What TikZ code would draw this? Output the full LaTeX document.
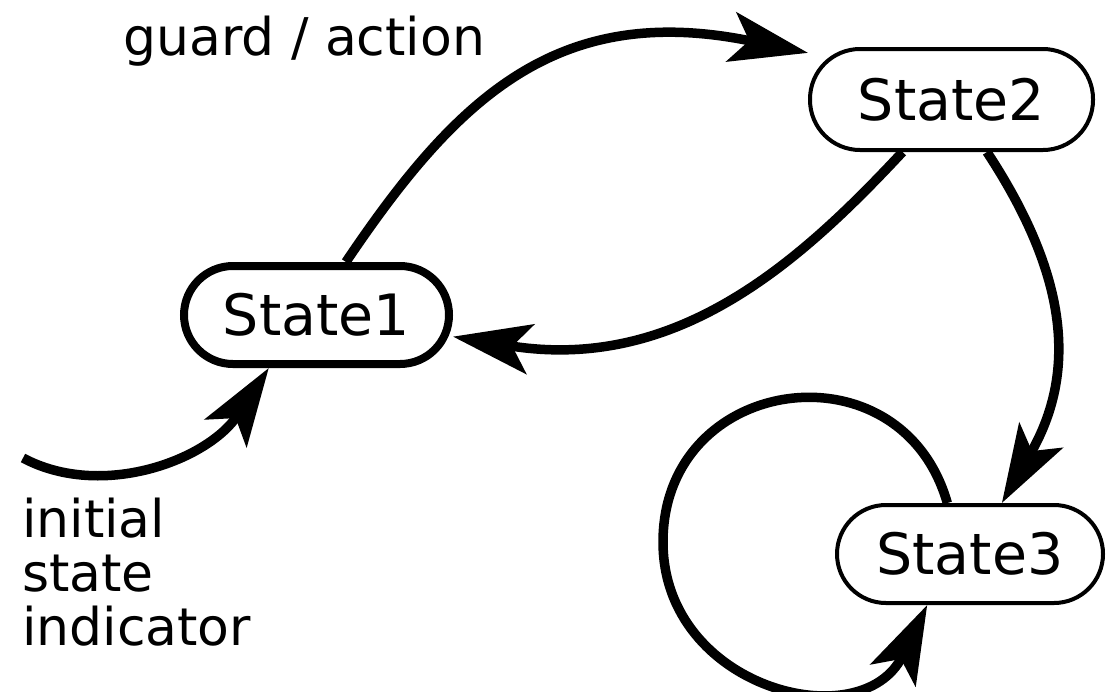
\documentclass[tikz,border=0pt]{standalone}
\usepackage{fontspec}
\setmainfont{DejaVu Sans}
\usetikzlibrary{arrows.meta}
\begin{document}
\begin{tikzpicture}[x=1pt, y=-1pt,
    state/.style={draw, inner sep=0pt, line width=4pt,
        font=\fontsize{57}{60}\selectfont},
    trans/.style={line width=9.5pt,
        -{Stealth[length=78pt, width=50pt, inset=18pt]}},
    note/.style={inner sep=0pt, font=\fontsize{52}{54}\selectfont}]
    \useasboundingbox (0,0) rectangle (1107,691);
    \node[state, line width=8pt, minimum width=265pt, minimum height=98pt,
        rounded corners=49pt] (s1) at (316.5,315) {State1};
    \node[state, minimum width=283pt, minimum height=101pt,
        rounded corners=50pt] (s2) at (951.5,99.5) {State2};
    \node[state, minimum width=266pt, minimum height=98pt,
        rounded corners=49pt] (s3) at (970,554) {State3};
    \node[note, anchor=base west] (guard) at (123,55) {guard / action};
    \node[note, anchor=north west, align=left] (init) at (22,498)
        {initial\\state\\indicator};
    \coordinate (start) at (23,458);
    \draw[trans]
        (s1.61) .. controls (457,97) and (558,1) .. (s2.162);
    \draw[trans]
        (s2.227) .. controls (800,262) and (677,373) .. (s1.351);
    \draw[trans]
        (s2.304) .. controls (1069,277) and (1077,373) .. (s3.58);
    \draw[trans]
        (s3.114) .. controls (901,341) and (663,374) .. (663,542)
        .. controls (663,689) and (862,739) .. (s3.230);
    \draw[trans]
        (start) .. controls (102,500) and (208,460) .. (s1.228);
\end{tikzpicture}
\end{document}
